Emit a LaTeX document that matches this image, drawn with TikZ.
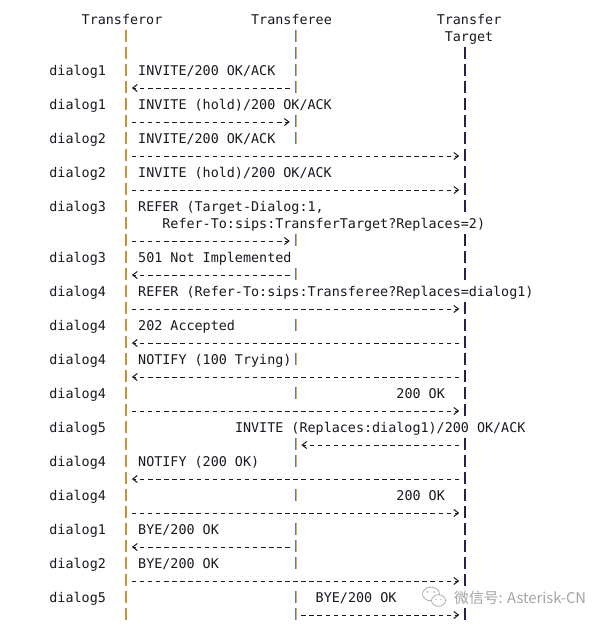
\documentclass[tikz,border=0pt]{standalone}
\usepackage{fontspec}
\newfontfamily\monofnt{DejaVu Sans Mono}
\newfontfamily\cjkfnt{Noto Sans CJK SC}
\usetikzlibrary{arrows.meta}
\definecolor{ink}{RGB}{24,24,32}
\definecolor{lifeT}{RGB}{200,148,50}
\definecolor{lifeEb}{RGB}{70,130,210}
\definecolor{lifeEo}{RGB}{220,170,90}
\definecolor{lifeG}{RGB}{35,35,75}
\definecolor{wm}{RGB}{165,165,165}
\newcommand\txt[4]{\node[lbl] (#1) at ({1+8.07*#2},{24.7+17*#3}) {#4};}
\begin{document}
\begin{tikzpicture}[x=1pt,y=-1pt,
  lbl/.style={anchor=base west,inner sep=0pt,outer sep=0pt,text=ink,font=\monofnt\fontsize{13.4}{17}\selectfont},
  msg/.style={draw=ink,line width=1pt,dash pattern=on 4.4pt off 3.67pt,dash phase=-0.3pt,shorten <=5.5pt,shorten >=5.8pt,-{Straight Barb[length=4.6pt,width=7pt,line width=1pt]}},
  pipeT/.style={draw=lifeT,line width=1.6pt},
  pipeEb/.style={draw=lifeEb,line width=1.2pt},
  pipeEo/.style={draw=lifeEo,line width=0.5pt},
  pipeG/.style={draw=lifeG,line width=1.1pt},
  wmline/.style={draw=wm,line width=0.7pt}]
\fill[white] (0,0) rectangle (607,627);
\useasboundingbox (0,0) rectangle (607,627);
% lifeline anchor points, one per text line
\foreach \n in {0,...,35}{
  \coordinate (T\n) at (126.085,{20+17*\n});
  \coordinate (E\n) at (295.555,{20+17*\n});
  \coordinate (G\n) at (465.025,{20+17*\n});
}
% lifelines (pipe characters)
\foreach \n in {1,...,35}{
  \draw[pipeT] ([yshift=7.5pt]T\n) -- ([yshift=-5pt]T\n);
}
\foreach \n in {1,2,3,4,6,7,13,15,18,20,22,25,26,28,30,31,32,34,35}{
  \draw[pipeEb] ([xshift=-0.3pt,yshift=7.5pt]E\n) -- ([xshift=-0.3pt,yshift=-5pt]E\n);
  \draw[pipeEo] ([xshift=0.6pt,yshift=7.5pt]E\n) -- ([xshift=0.6pt,yshift=-5pt]E\n);
}
\foreach \n in {2,3,4,5,6,7,8,9,10,11,13,14,15,17,18,19,20,21,22,23,25,26,27,28,29,30,31,32,33,35}{
  \draw[pipeG] ([yshift=7.5pt]G\n) -- ([yshift=-5pt]G\n);
}
% headers
\txt{hT}{10}{0}{Transferor}
\txt{hE}{31}{0}{Transferee}
\txt{hG}{54}{0}{Transfer}
\txt{hG2}{55}{1}{Target}
% dialog labels and messages
\txt{d3}{6}{3}{dialog1}   \txt{m3}{17}{3}{INVITE/200 OK/ACK}
\txt{d5}{6}{5}{dialog1}   \txt{m5}{17}{5}{INVITE (hold)/200 OK/ACK}
\txt{d7}{6}{7}{dialog2}   \txt{m7}{17}{7}{INVITE/200 OK/ACK}
\txt{d9}{6}{9}{dialog2}   \txt{m9}{17}{9}{INVITE (hold)/200 OK/ACK}
\txt{d11}{6}{11}{dialog3} \txt{m11}{17}{11}{REFER (Target-Dialog:1,}
\txt{m12}{20}{12}{Refer-To:sips:TransferTarget?Replaces=2)}
\txt{d14}{6}{14}{dialog3} \txt{m14}{17}{14}{501 Not Implemented}
\txt{d16}{6}{16}{dialog4} \txt{m16}{17}{16}{REFER (Refer-To:sips:Transferee?Replaces=dialog1)}
\txt{d18}{6}{18}{dialog4} \txt{m18}{17}{18}{202 Accepted}
\txt{d20}{6}{20}{dialog4} \txt{m20}{17}{20}{NOTIFY (100 Trying)}
\txt{d22}{6}{22}{dialog4} \txt{m22}{49}{22}{200 OK}
\txt{d24}{6}{24}{dialog5} \txt{m24}{29}{24}{INVITE (Replaces:dialog1)/200 OK/ACK}
\txt{d26}{6}{26}{dialog4} \txt{m26}{17}{26}{NOTIFY (200 OK)}
\txt{d28}{6}{28}{dialog4} \txt{m28}{49}{28}{200 OK}
\txt{d30}{6}{30}{dialog1} \txt{m30}{17}{30}{BYE/200 OK}
\txt{d32}{6}{32}{dialog2} \txt{m32}{17}{32}{BYE/200 OK}
\txt{d34}{6}{34}{dialog5} \txt{m34}{39}{34}{BYE/200 OK}
% message arrows
\draw[msg] (E4) -- (T4);
\draw[msg] (T6) -- (E6);
\draw[msg] (T8) -- (G8);
\draw[msg] (T10) -- (G10);
\draw[msg] (T13) -- (E13);
\draw[msg] (E15) -- (T15);
\draw[msg] (T17) -- (G17);
\draw[msg] (G19) -- (T19);
\draw[msg] (G21) -- (T21);
\draw[msg] (T23) -- (G23);
\draw[msg] (G25) -- (E25);
\draw[msg] (G27) -- (T27);
\draw[msg] (T29) -- (G29);
\draw[msg] (E31) -- (T31);
\draw[msg] (T33) -- (G33);
\draw[msg] (E35) -- (G35);
% watermark
\draw[wmline] (431,594) ellipse [x radius=8.5pt, y radius=6.8pt];
\filldraw[wmline,fill=white] (438.5,600.5) ellipse [x radius=7pt, y radius=5.8pt];
\fill[wm] (427.5,592) circle (0.9pt) (434,592) circle (0.9pt);
\fill[wm] (436,599.5) circle (0.7pt) (441,599.5) circle (0.7pt);
\node[anchor=west,inner sep=0pt,text=wm,font=\cjkfnt\fontsize{14.8}{15}\selectfont] (wmk) at (454,597.5) {微信号: Asterisk-CN};
\end{tikzpicture}
\end{document}
